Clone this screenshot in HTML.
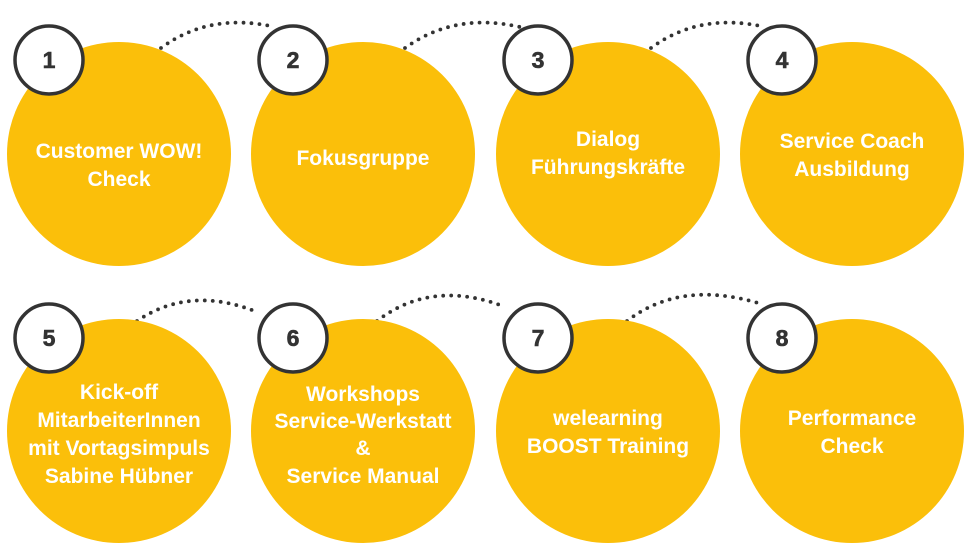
<!DOCTYPE html>
<html><head><meta charset="utf-8"><style>
html,body{margin:0;padding:0;background:#fff;width:973px;height:554px;overflow:hidden}
svg{display:block}
.t{font-family:"Liberation Sans",sans-serif;font-weight:bold;font-size:21px;fill:#fff;text-anchor:middle}
.n{font-family:"Liberation Sans",sans-serif;font-weight:bold;font-size:23px;fill:#333;text-anchor:middle;stroke:#333;stroke-width:0.6}
.d{fill:none;stroke:#333;stroke-width:3.8;stroke-linecap:round;stroke-dasharray:0 8}
.b{fill:#fbbf0a}
.s{fill:#fff;stroke:#333;stroke-width:3.5}
</style></head><body>
<svg width="973" height="554" viewBox="0 0 973 554">
<path class="d" d="M161,48 Q210,12 275,27"/>
<path class="d" d="M405,48 Q455,12 520,27"/>
<path class="d" d="M651,48 Q700,12 765,27"/>
<path class="d" d="M137,321 Q190,285 257,312"/>
<path class="d" d="M377,321 Q430,280 500,305"/>
<path class="d" d="M627,321 Q680,280 758,303"/>

<circle class="b" cx="119" cy="154" r="112"/>
<circle class="b" cx="363" cy="154" r="112"/>
<circle class="b" cx="608" cy="154" r="112"/>
<circle class="b" cx="852" cy="154" r="112"/>
<circle class="b" cx="119" cy="431" r="112"/>
<circle class="b" cx="363" cy="431" r="112"/>
<circle class="b" cx="608" cy="431" r="112"/>
<circle class="b" cx="852" cy="431" r="112"/>

<circle class="s" cx="49" cy="60" r="34"/>
<circle class="s" cx="293" cy="60" r="34"/>
<circle class="s" cx="538" cy="60" r="34"/>
<circle class="s" cx="782" cy="60" r="34"/>
<circle class="s" cx="49" cy="338" r="34"/>
<circle class="s" cx="293" cy="338" r="34"/>
<circle class="s" cx="538" cy="338" r="34"/>
<circle class="s" cx="782" cy="338" r="34"/>
<text class="n" x="49" y="68">1</text>
<text class="n" x="293" y="68">2</text>
<text class="n" x="538" y="68">3</text>
<text class="n" x="782" y="68">4</text>
<text class="n" x="49" y="346">5</text>
<text class="n" x="293" y="346">6</text>
<text class="n" x="538" y="346">7</text>
<text class="n" x="782" y="346">8</text>

<text class="t" x="119" y="158">Customer WOW!</text>
<text class="t" x="119" y="186">Check</text>
<text class="t" x="363" y="165">Fokusgruppe</text>
<text class="t" x="608" y="146">Dialog</text>
<text class="t" x="608" y="174">Führungskräfte</text>
<text class="t" x="852" y="148">Service Coach</text>
<text class="t" x="852" y="176">Ausbildung</text>

<text class="t" x="119" y="399">Kick-off</text>
<text class="t" x="119" y="427">MitarbeiterInnen</text>
<text class="t" x="119" y="455">mit Vortagsimpuls</text>
<text class="t" x="119" y="483">Sabine Hübner</text>
<text class="t" x="363" y="401">Workshops</text>
<text class="t" x="363" y="428">Service-Werkstatt</text>
<text class="t" x="363" y="455">&amp;</text>
<text class="t" x="363" y="483">Service Manual</text>
<text class="t" x="608" y="425">welearning</text>
<text class="t" x="608" y="453">BOOST Training</text>
<text class="t" x="852" y="425">Performance</text>
<text class="t" x="852" y="453">Check</text>
</svg>
</body></html>
